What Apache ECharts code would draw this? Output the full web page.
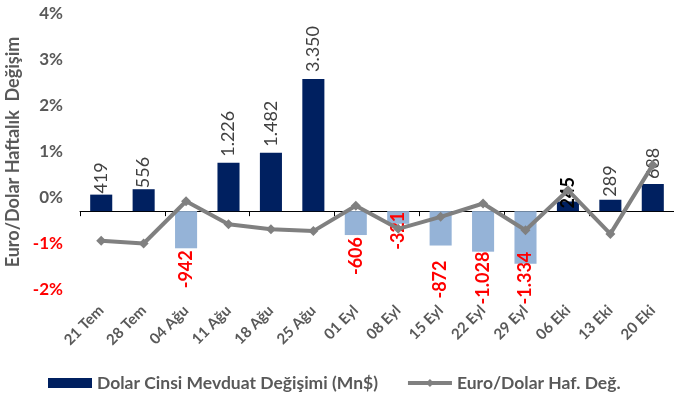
<!DOCTYPE html>
<html>
<head>
<meta charset="utf-8">
<script src="https://cdn.jsdelivr.net/npm/echarts@6/dist/echarts.min.js"></script>
<style>
  html, body { margin: 0; padding: 0; background: #fff; }
  #chart { width: 674px; height: 401px; }
</style>
</head>
<body>
<div id="chart"></div>
<script>
// weekly data
const weeks = ['21 Tem', '28 Tem', '04 Ağu', '11 Ağu', '18 Ağu', '25 Ağu', '01 Eyl',
  '08 Eyl', '15 Eyl', '22 Eyl', '29 Eyl', '06 Eki', '13 Eki', '20 Eki'];
const depositChange = [419, 556, -942, 1226, 1482, 3350, -606, -321, -872, -1028, -1334, 245, 289, 688];
const eurUsdChange = [-0.93, -0.99, -0.07, -0.57, -0.68, -0.72, -0.17, -0.67, -0.41, -0.12, -0.70, 0.17, -0.78, 0.72];
const pctTicks = [-2, -1, 0, 1, 2, 3, 4];
const depositRange = [-2000, 5000];

const FONT = 'Lato';
const GREY = '#595959';
const RED = '#FF0000';

const fmt = v => (v < 0 ? '-' : '') + String(Math.abs(v)).replace(/\B(?=(\d{3})+(?!\d))/g, '.');

// labels in the original were nudged by hand here and there
const labelGap = { 0: 1, 1: 1, 3: 6, 4: 6, 5: 7, 7: -12, 8: 15, 9: 0, 10: -12, 11: -7, 12: 3, 13: 5 };

const barData = depositChange.map((v, i) => {
  const neg = v < 0;
  const gap = labelGap[i] !== undefined ? labelGap[i] : (neg ? 2 : 4);
  return {
    value: v,
    itemStyle: { color: neg ? '#95B3D7' : '#002060' },
    label: {
      position: neg ? 'bottom' : 'top',
      align: neg ? 'right' : 'left',
      distance: gap,
      color: neg ? RED : (i === 11 ? '#000' : '#404040'),
      fontWeight: (neg || i === 11) ? 'bold' : 'normal'
    }
  };
});

const chart = echarts.init(document.getElementById('chart'));

chart.setOption({
  animation: false,
  textStyle: { fontFamily: FONT },
  grid: { left: 80, right: 0, top: 14, bottom: 111, containLabel: false, outerBoundsMode: 'none' },
  legend: {
    bottom: 4,
    left: 43,
    itemWidth: 44,
    itemHeight: 10,
    itemGap: 28,
    textStyle: { fontFamily: FONT, fontSize: 17.5, fontWeight: 'bold', color: GREY },
    data: [
      { name: 'Dolar Cinsi Mevduat Değişimi (Mn$)', icon: 'rect', itemStyle: { color: '#002060' } },
      { name: 'Euro/Dolar Haf. Değ.', lineStyle: { width: 4, color: '#808080' } }
    ]
  },
  xAxis: [
    {
      type: 'category',
      data: weeks,
      position: 'top',
      axisLine: { onZero: true, onZeroAxisIndex: 1, lineStyle: { color: '#000', width: 1 } },
      axisTick: { show: true, inside: true, length: 5, lineStyle: { color: '#000' } },
      axisLabel: { show: false }
    },
    {
      type: 'category',
      data: weeks,
      position: 'bottom',
      axisLine: { show: false, onZero: false },
      axisTick: { show: false },
      axisLabel: {
        rotate: 45,
        margin: 18,
        interval: 0,
        fontFamily: FONT,
        fontSize: 15,
        fontWeight: 'bold',
        color: GREY
      }
    }
  ],
  yAxis: [
    {
      type: 'value',
      min: pctTicks[0],
      max: pctTicks[pctTicks.length - 1],
      interval: 1,
      name: 'Euro/Dolar Haftalık  Değişim',
      nameLocation: 'middle',
      nameGap: 55,
      nameTextStyle: { fontFamily: FONT, fontSize: 18, fontWeight: 'bold', color: GREY },
      axisLine: { show: false },
      axisTick: { show: false },
      splitLine: { show: false },
      axisLabel: {
        margin: 17,
        fontFamily: FONT,
        fontSize: 17,
        fontWeight: 'bold',
        color: v => (v < 0 ? RED : GREY),
        formatter: v => v + '%'
      }
    },
    {
      type: 'value',
      show: false,
      min: depositRange[0],
      max: depositRange[1],
      splitLine: { show: false }
    }
  ],
  series: [
    {
      name: 'Dolar Cinsi Mevduat Değişimi (Mn$)',
      type: 'bar',
      xAxisIndex: 0,
      yAxisIndex: 1,
      barWidth: '52%',
      itemStyle: { color: '#002060' },
      label: {
        show: true,
        rotate: 90,
        verticalAlign: 'middle',
        fontFamily: FONT,
        fontSize: 18,
        formatter: p => fmt(p.value)
      },
      data: barData,
      z: 2
    },
    {
      name: 'Euro/Dolar Haf. Değ.',
      type: 'line',
      xAxisIndex: 0,
      yAxisIndex: 0,
      symbol: 'diamond',
      symbolSize: 10,
      itemStyle: { color: '#808080' },
      lineStyle: { color: '#808080', width: 4 },
      data: eurUsdChange,
      z: 3
    }
  ]
});
</script>
</body>
</html>
